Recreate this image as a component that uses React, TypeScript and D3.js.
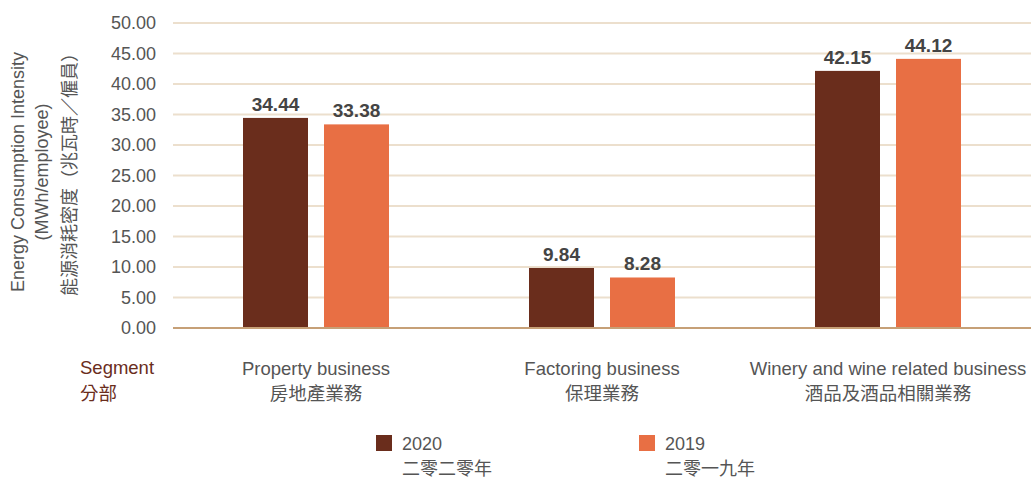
import React from "react";
import * as d3 from "d3";

const categories = ["Property business", "Factoring business", "Winery and wine related business"];
const categoriesZh = ["房地產業務", "保理業務", "酒品及酒品相關業務"];
const seriesKeys = ["2020", "2019"];
const seriesZh = ["二零二零年", "二零一九年"];
const values2020 = [34.44, 9.84, 42.15];
const values2019 = [33.38, 8.28, 44.12];
const yTicks = [0, 5, 10, 15, 20, 25, 30, 35, 40, 45, 50];
const colors = ["#6a2d1c", "#e86f44"];

const W = 1031, H = 479;
const left = 173, right = 1031, top = 23, bottom = 328;
const FONT = "'Liberation Sans', Arial, Helvetica, sans-serif";
const CJK = "'Noto Sans CJK TC', 'Noto Sans CJK SC', sans-serif";

export default function App() {
  const x = d3.scaleBand<string>().domain(categories).range([left, right]).padding(0);
  const y = d3.scaleLinear().domain([0, 50]).range([bottom, top]);
  const sub = d3.scaleBand<string>().domain(seriesKeys).range([-73, 73]).paddingInner(16 / 81);
  const data = [values2020, values2019];

  return (
    <svg width={W} height={H} style={{ position: "absolute", left: 0, top: 0 }}>
      {yTicks.map((t) => (
        <g key={t}>
          {t > 0 && (
            <line x1={left} x2={right} y1={y(t)} y2={y(t)} stroke="#ecdfcd" strokeWidth={2} />
          )}
          <text x={156} y={y(t)} dy="0.36em" textAnchor="end" fontFamily={FONT} fontSize={18} fill="#555">
            {t.toFixed(2)}
          </text>
        </g>
      ))}
      {categories.map((c, i) => {
        const cx = (x(c) as number) + x.bandwidth() / 2;
        return (
          <g key={c}>
            {seriesKeys.map((s, j) => {
              const v = data[j][i];
              const bx = cx + (sub(s) as number);
              return (
                <g key={s}>
                  <rect x={bx} y={y(v)} width={sub.bandwidth()} height={y(0) - y(v)} fill={colors[j]} />
                  <text x={bx + sub.bandwidth() / 2} y={y(v) - 7} textAnchor="middle" fontFamily={FONT} fontSize={19} fontWeight="bold" fill="#444">
                    {v.toFixed(2)}
                  </text>
                </g>
              );
            })}
            <text x={cx} y={375} textAnchor="middle" fontFamily={FONT} fontSize={18.5} fill="#555">{c}</text>
            <text x={cx} y={400} textAnchor="middle" fontFamily={CJK} fontSize={18.5} fill="#555">{categoriesZh[i]}</text>
          </g>
        );
      })}
      <line x1={left} x2={right} y1={y(0)} y2={y(0)} stroke="#c6a077" strokeWidth={2} />
      <text x={80} y={374} fontFamily={FONT} fontSize={18.5} fill="#6a2d1c">Segment</text>
      <text x={80} y={400} fontFamily={CJK} fontSize={18.5} fill="#6a2d1c">分部</text>
      <g transform="translate(24,172) rotate(-90)">
        <text x={0} y={0} textAnchor="middle" fontFamily={FONT} fontSize={18} fill="#555">Energy Consumption Intensity</text>
      </g>
      <g transform="translate(48,172) rotate(-90)">
        <text x={0} y={0} textAnchor="middle" fontFamily={FONT} fontSize={18} fill="#555">(MWh/employee)</text>
      </g>
      <g transform="translate(76,170) rotate(-90)">
        <text x={0} y={0} textAnchor="middle" fontFamily={CJK} fontSize={18} fill="#555">能源消耗密度（兆瓦時／僱員）</text>
      </g>
      {seriesKeys.map((s, j) => {
        const lx = [376, 639][j];
        return (
          <g key={s}>
            <rect x={lx} y={435} width={16} height={16} fill={colors[j]} />
            <text x={lx + 26} y={450} fontFamily={FONT} fontSize={18} fill="#555">{s}</text>
            <text x={lx + 26} y={475} fontFamily={CJK} fontSize={18} fill="#555">{seriesZh[j]}</text>
          </g>
        );
      })}
    </svg>
  );
}
